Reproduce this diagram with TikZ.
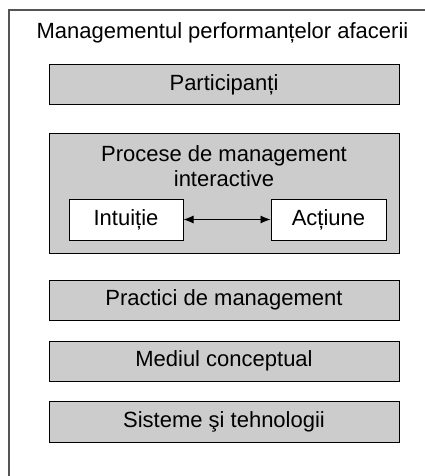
\documentclass[tikz,border=0pt]{standalone}
\usepackage{fontspec}
\setmainfont{Liberation Sans}
\usetikzlibrary{arrows.meta}
\definecolor{boxgray}{HTML}{CCCCCC}
\definecolor{framegray}{HTML}{555555}
\begin{document}
\begin{tikzpicture}[x=1pt,y=-1pt,
  txt/.style={font=\fontsize{22}{25.5}\selectfont, inner sep=0pt},
  graybox/.style={draw=black, line width=1pt, fill=boxgray, minimum width=350pt, minimum height=40pt, inner sep=0pt, font=\fontsize{22}{25}\selectfont},
  whitebox/.style={draw=black, line width=1pt, fill=white, minimum width=114pt, minimum height=41pt, inner sep=0pt, font=\fontsize{22}{25}\selectfont}]
\useasboundingbox (0,0) rectangle (425,476);
\coordinate (fbl) at (9,477);
\coordinate (ftl) at (9,10);
\coordinate (ftr) at (426,10);
\draw[framegray, line width=1.3pt] (fbl) -- (ftl) -- (ftr);
\node[txt, anchor=base] (title) at (222.5,39) {Managementul performanțelor afacerii};
\node[graybox] (part) at (224,85) {Participanți};
\node[graybox, minimum height=120pt] (proc) at (224,193) {};
\node[txt, align=center] (proctxt) at (224,166) {Procese de management\\interactive};
\node[whitebox] (intu) at (126,219.5) {Intuiție};
\node[whitebox, minimum width=115pt] (act) at (328.5,219.5) {Acțiune};
\draw[{Latex[length=10pt,width=8pt]}-{Latex[length=10pt,width=8pt]}, line width=0.8pt] (intu) -- (act);
\node[graybox] (prac) at (224,300) {Practici de management};
\node[graybox] (med) at (224,361) {Mediul conceptual};
\node[graybox, minimum height=41pt] (sis) at (224,421.5) {Sisteme şi tehnologii};
\end{tikzpicture}
\end{document}
